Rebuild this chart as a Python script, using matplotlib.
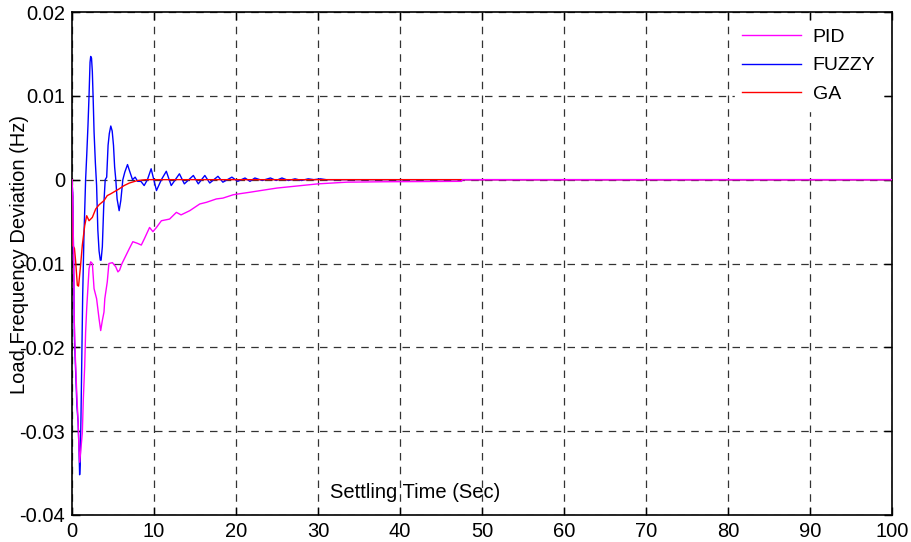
import matplotlib
matplotlib.use("Agg")
import matplotlib.pyplot as plt

# ---------- data ----------

t_pid = [0, 0.1, 0.2, 0.28, 0.4, 0.6, 0.75, 0.85, 0.93, 1.05, 1.26, 1.38, 1.55, 1.66,
         1.79, 2.08, 2.28, 2.48, 2.69, 3.0, 3.3, 3.5, 3.7, 3.9, 4.0, 4.3, 4.5, 4.93,
         5.34, 5.6, 5.8, 6.1, 6.6, 7.0, 7.42, 8.0, 8.45, 8.85, 9.46, 9.87, 10.3, 10.9,
         11.9, 12.73, 13.3, 14.36, 15.58, 16.4, 17.6, 18.4, 19.66, 20.3, 21.7, 23.0,
         25.0, 27.0, 28.0, 30.0, 33.5, 38.0, 47.5, 47.6, 100]
pid = [0, -0.002, -0.010, -0.017, -0.021, -0.026, -0.029, -0.032, -0.0337, -0.0325,
       -0.0302, -0.0262, -0.0222, -0.0182, -0.0154, -0.0106, -0.0098, -0.0100, -0.0130,
       -0.0142, -0.0166, -0.0180, -0.0168, -0.0158, -0.0142, -0.0122, -0.0100, -0.0099,
       -0.0104, -0.0110, -0.0108, -0.0100, -0.0090, -0.0082, -0.0074, -0.0076, -0.0078,
       -0.0070, -0.0057, -0.0062, -0.0057, -0.0049, -0.0047, -0.0039, -0.0042, -0.0037,
       -0.0029, -0.0027, -0.0023, -0.0022, -0.0018, -0.0017, -0.0015, -0.0013, -0.0010,
       -0.0008, -0.0007, -0.0005, -0.0003, -0.00025, -0.0002, 0, 0]

t_fuzzy = [0, 0.1, 0.2, 0.3, 0.45, 0.6, 0.75, 0.85, 0.93, 1.0, 1.1, 1.2, 1.3, 1.45,
           1.66, 1.8, 1.95, 2.08, 2.2, 2.28, 2.38, 2.48, 2.6, 2.69, 2.85, 3.0, 3.15,
           3.3, 3.45, 3.55, 3.7, 3.87, 4.05, 4.23, 4.4, 4.55, 4.73, 4.9, 5.06, 5.2,
           5.34, 5.5, 5.75, 5.95, 6.2, 6.44, 6.77, 7.0, 7.38, 7.7, 8.0, 8.4, 8.8, 9.2,
           9.65, 10.3, 10.9, 11.5, 12.1, 13.1, 13.7, 14.8, 15.4, 16.2, 16.8, 17.8, 18.4,
           19.5, 20.2, 21.1, 21.7, 22.3, 23.2, 24.2, 24.9, 25.6, 26.4, 27.2, 28.0, 28.8,
           29.5, 30.3, 31, 100]
fuzzy = [0, -0.002, -0.010, -0.019, -0.023, -0.027, -0.029, -0.032, -0.0352, -0.034,
         -0.028, -0.021, -0.014, -0.007, 0.0, 0.003, 0.0065, 0.0101, 0.0140, 0.0147,
         0.0145, 0.0129, 0.009, 0.0057, 0.002, -0.0007, -0.006, -0.0085, -0.0096, -0.0096,
         -0.008, -0.0031, 0.0, 0.0003, 0.0041, 0.0055, 0.0064, 0.0058, 0.0041, 0.0015,
         0.0, -0.0023, -0.0037, -0.0025, 0.0, 0.0009, 0.0018, 0.0011, 0.0, 0.0003,
         -0.0002, -0.0002, -0.0007, 0.0, 0.0013, -0.0013, 0.0, 0.0010, -0.0007, 0.0007,
         -0.0005, 0.0005, -0.0005, 0.0005, -0.0004, 0.0004, -0.0003, 0.0003, -0.0002,
         0.0002, -0.0002, 0.0002, -0.0001, 0.0002, -0.0001, 0.0002, -0.0001, 0.0001,
         -0.0001, 0.0001, 0.0, 0.0001, 0, 0]

t_ga = [0, 0.02, 0.3, 0.45, 0.65, 0.8, 1.05, 1.26, 1.55, 1.79, 2.08, 2.48, 2.89, 3.3,
        3.9, 4.3, 4.7, 5.75, 6.36, 7.0, 8.0, 9.0, 100]
ga = [0, -0.0077, -0.0082, -0.0098, -0.0126, -0.0127, -0.0102, -0.0078, -0.0055,
      -0.0043, -0.0049, -0.0045, -0.0035, -0.0030, -0.0025, -0.0019, -0.0017, -0.0011,
      -0.0007, -0.0004, -0.0001, 0, 0]

x_ticks = [0, 10, 20, 30, 40, 50, 60, 70, 80, 90, 100]
y_ticks = [-0.04, -0.03, -0.02, -0.01, 0, 0.01, 0.02]
y_tick_labels = ["-0.04", "-0.03", "-0.02", "-0.01", "0", "0.01", "0.02"]

# ---------- plot ----------

plt.rcParams["font.family"] = ["Liberation Sans", "DejaVu Sans"]

fig = plt.figure(figsize=(9.11, 5.42), dpi=100)
ax = fig.add_axes([72 / 911, 27 / 542, 820 / 911, 503 / 542])

ax.plot(t_fuzzy, fuzzy, color="#0000ff", lw=1.0, label="FUZZY", zorder=3)
ax.plot(t_ga, ga, color="#ff0000", lw=1.0, label="GA", zorder=3)
ax.plot(t_pid, pid, color="#ff00ff", lw=1.0, label="PID", zorder=3)

ax.set_xlim(0, 100)
ax.set_ylim(-0.04, 0.02)
ax.set_xticks(x_ticks)
ax.set_yticks(y_ticks)
ax.set_yticklabels(y_tick_labels)
ax.tick_params(direction="in", length=6, width=1, labelsize=14.5, pad=5,
               top=True, right=True)
ax.grid(True, color="#333333", linestyle=(0, (6, 5)), lw=0.9)
for s in ax.spines.values():
    s.set_linewidth(1.2)

handles, labels = ax.get_legend_handles_labels()
order = [labels.index("PID"), labels.index("FUZZY"), labels.index("GA")]
leg = ax.legend([handles[i] for i in order], [labels[i] for i in order],
                loc="upper right", fontsize=14, frameon=True, fancybox=False,
                edgecolor="white", framealpha=1.0, handlelength=3.0,
                borderaxespad=0.45, labelspacing=0.55, handletextpad=0.62)

fig.text(415 / 911, 1 - 492 / 542, "Settling Time (Sec)", ha="center", va="center",
         fontsize=14.5)
fig.text(20 / 911, 1 - 255 / 542, "Load Frequency Deviation (Hz)", ha="center",
         va="center", rotation=90, fontsize=14.5)

plt.savefig("out.png", dpi=100)
